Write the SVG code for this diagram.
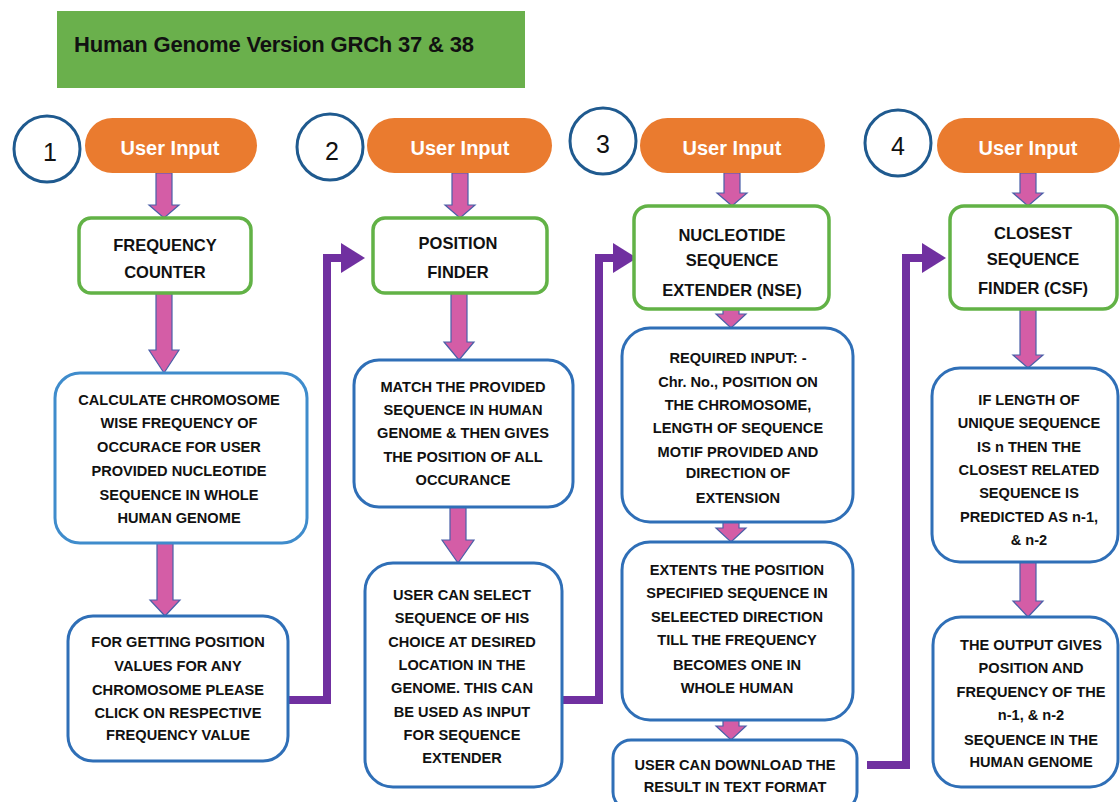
<svg xmlns="http://www.w3.org/2000/svg" width="1120" height="802" viewBox="0 0 1120 802">
<defs>
<marker id="ph" markerUnits="userSpaceOnUse" markerWidth="24" markerHeight="30" viewBox="0 0 24 30" refX="2" refY="15" orient="auto">
<path d="M0,0 L24,15 L0,30 z" fill="#7030a0"/>
</marker>
</defs>
<style>
text{font-family:"Liberation Sans",Arial,sans-serif;font-weight:bold;fill:#111;text-anchor:middle}
.title{font-size:22px;text-anchor:start}
.ui{font-size:20px;fill:#fff}
.num{font-size:25px;font-weight:normal}
.hd{font-size:16.5px}
.bt{font-size:14.6px}
.pill{fill:#ea7b2f}
.circ{fill:#fff;stroke:#1f5a8f;stroke-width:3}
.gbox{fill:#fff;stroke:#62b246;stroke-width:3.5}
.bbox{fill:#fff;stroke:#2f6fb7;stroke-width:3}
.pk{fill:#d45da6;stroke:#4a5fa8;stroke-width:1.2}
.pc{fill:none;stroke:#7030a0;stroke-width:8;marker-end:url(#ph)}
</style>
<rect width="1120" height="802" fill="#fff"/>

<g id="title">
<rect x="57" y="11" width="468" height="77" fill="#6ab04c"/>
<text class="title" x="74" y="52" textLength="400">Human Genome Version GRCh 37 &amp; 38</text>
</g>

<g id="connectors">
<polygon class="pk" points="156,173 172,173 172,205 179,205 164,218 149,205 156,205"/>
<polygon class="pk" points="452,173 468,173 468,205 475,205 460,218 445,205 452,205"/>
<polygon class="pk" points="724,173 740,173 740,193 747,193 732,206 717,193 724,193"/>
<polygon class="pk" points="1020,173 1036,173 1036,193 1043,193 1028,206 1013,193 1020,193"/>
<polygon class="pk" points="156,293 172,293 172,350 179,350 164,373 149,350 156,350"/>
<polygon class="pk" points="157,543 173,543 173,600 180,600 165,616 150,600 157,600"/>
<polygon class="pk" points="451,293 467,293 467,342 474,342 459,360 444,342 451,342"/>
<polygon class="pk" points="450,507 466,507 466,540 474,540 458,563 442,540 450,540"/>
<polygon class="pk" points="723,309 739,309 739,314 746,314 731,328 716,314 723,314"/>
<polygon class="pk" points="723,522 739,522 739,528 746,528 731,542 716,528 723,528"/>
<polygon class="pk" points="723,720 739,720 739,726 746,726 731,740 716,726 723,726"/>
<polygon class="pk" points="1020,309 1036,309 1036,355 1043,355 1028,368 1013,355 1020,355"/>
<polygon class="pk" points="1020,562 1036,562 1036,601 1043,601 1028,617 1013,601 1020,601"/>
<path class="pc" d="M288,700 H327 V258 H343"/>
<path class="pc" d="M562,700 H599 V258 H615"/>
<path class="pc" d="M867,765 H906 V258 H924"/>
</g>

<g id="step1">
<circle class="circ" cx="47" cy="149" r="33"/>
<text class="num" x="50" y="161">1</text>
</g>
<g id="step2">
<circle class="circ" cx="330" cy="147" r="33"/>
<text class="num" x="332" y="160">2</text>
</g>
<g id="step3">
<circle class="circ" cx="603" cy="141" r="33"/>
<text class="num" x="603" y="153">3</text>
</g>
<g id="step4">
<circle class="circ" cx="898" cy="143" r="33"/>
<text class="num" x="898" y="155">4</text>
</g>

<g id="input1"><rect class="pill" x="85" y="118" width="172" height="55" rx="27.5"/><text class="ui" x="170" y="155">User Input</text></g>
<g id="input2"><rect class="pill" x="367" y="118" width="185" height="55" rx="27.5"/><text class="ui" x="460" y="155">User Input</text></g>
<g id="input3"><rect class="pill" x="640" y="118" width="185" height="55" rx="27.5"/><text class="ui" x="732" y="155">User Input</text></g>
<g id="input4"><rect class="pill" x="937" y="118" width="183" height="55" rx="27.5"/><text class="ui" x="1028" y="155">User Input</text></g>

<g id="freq-counter">
<rect class="gbox" x="79" y="218" width="172" height="75" rx="12"/>
<text class="hd" x="165" y="251">FREQUENCY</text>
<text class="hd" x="165" y="278">COUNTER</text>
</g>
<g id="position-finder">
<rect class="gbox" x="373" y="218" width="174" height="75" rx="12"/>
<text class="hd" x="458" y="249">POSITION</text>
<text class="hd" x="458" y="278">FINDER</text>
</g>
<g id="nse">
<rect class="gbox" x="634" y="206" width="195" height="103" rx="14"/>
<text class="hd" x="732" y="241">NUCLEOTIDE</text>
<text class="hd" x="732" y="266">SEQUENCE</text>
<text class="hd" x="732" y="296">EXTENDER (NSE)</text>
</g>
<g id="csf">
<rect class="gbox" x="950" y="206" width="167" height="103" rx="14"/>
<text class="hd" x="1033" y="239">CLOSEST</text>
<text class="hd" x="1033" y="265">SEQUENCE</text>
<text class="hd" x="1033" y="294">FINDER (CSF)</text>
</g>

<g id="calc">
<rect class="bbox" x="55" y="373" width="252" height="170" rx="25" style="stroke:#3f8ccc"/>
<text class="bt" x="179" y="405">CALCULATE CHROMOSOME</text>
<text class="bt" x="179" y="428">WISE FREQUENCY OF</text>
<text class="bt" x="179" y="452">OCCURACE FOR USER</text>
<text class="bt" x="179" y="476">PROVIDED NUCLEOTIDE</text>
<text class="bt" x="179" y="500">SEQUENCE IN WHOLE</text>
<text class="bt" x="179" y="523">HUMAN GENOME</text>
</g>
<g id="for-getting">
<rect class="bbox" x="68" y="616" width="220" height="145" rx="25"/>
<text class="bt" x="178" y="647">FOR GETTING POSITION</text>
<text class="bt" x="178" y="671">VALUES FOR ANY</text>
<text class="bt" x="178" y="695">CHROMOSOME PLEASE</text>
<text class="bt" x="178" y="718">CLICK ON RESPECTIVE</text>
<text class="bt" x="178" y="740">FREQUENCY VALUE</text>
</g>
<g id="match">
<rect class="bbox" x="354" y="360" width="219" height="147" rx="25"/>
<text class="bt" x="463" y="392">MATCH THE PROVIDED</text>
<text class="bt" x="463" y="415">SEQUENCE IN HUMAN</text>
<text class="bt" x="463" y="438">GENOME &amp; THEN GIVES</text>
<text class="bt" x="463" y="462">THE POSITION OF ALL</text>
<text class="bt" x="463" y="485">OCCURANCE</text>
</g>
<g id="user-select">
<rect class="bbox" x="365" y="563" width="197" height="224" rx="28"/>
<text class="bt" x="462" y="600">USER CAN SELECT</text>
<text class="bt" x="462" y="623">SEQUENCE OF HIS</text>
<text class="bt" x="462" y="647">CHOICE AT DESIRED</text>
<text class="bt" x="462" y="670">LOCATION IN THE</text>
<text class="bt" x="462" y="693">GENOME. THIS CAN</text>
<text class="bt" x="462" y="717">BE USED AS INPUT</text>
<text class="bt" x="462" y="740">FOR SEQUENCE</text>
<text class="bt" x="462" y="763">EXTENDER</text>
</g>
<g id="required-input">
<rect class="bbox" x="622" y="328" width="231" height="194" rx="28"/>
<text class="bt" x="738" y="363">REQUIRED INPUT: -</text>
<text class="bt" x="738" y="387">Chr. No., POSITION ON</text>
<text class="bt" x="738" y="410">THE CHROMOSOME,</text>
<text class="bt" x="738" y="433">LENGTH OF SEQUENCE</text>
<text class="bt" x="738" y="457">MOTIF PROVIDED AND</text>
<text class="bt" x="738" y="478">DIRECTION OF</text>
<text class="bt" x="738" y="503">EXTENSION</text>
</g>
<g id="extends">
<rect class="bbox" x="622" y="542" width="231" height="178" rx="28"/>
<text class="bt" x="737" y="575">EXTENTS THE POSITION</text>
<text class="bt" x="737" y="598">SPECIFIED SEQUENCE IN</text>
<text class="bt" x="737" y="622">SELEECTED DIRECTION</text>
<text class="bt" x="737" y="645">TILL THE FREQUENCY</text>
<text class="bt" x="737" y="670">BECOMES ONE IN</text>
<text class="bt" x="737" y="693">WHOLE HUMAN</text>
</g>
<g id="download">
<rect class="bbox" x="613" y="740" width="244" height="70" rx="18"/>
<text class="bt" x="735" y="770">USER CAN DOWNLOAD THE</text>
<text class="bt" x="735" y="792">RESULT IN TEXT FORMAT</text>
</g>
<g id="if-length">
<rect class="bbox" x="932" y="368" width="186" height="194" rx="28"/>
<text class="bt" x="1029" y="405">IF LENGTH OF</text>
<text class="bt" x="1029" y="428">UNIQUE SEQUENCE</text>
<text class="bt" x="1029" y="452">IS n THEN THE</text>
<text class="bt" x="1029" y="475">CLOSEST RELATED</text>
<text class="bt" x="1029" y="498">SEQUENCE IS</text>
<text class="bt" x="1029" y="522">PREDICTED AS n-1,</text>
<text class="bt" x="1029" y="545">&amp; n-2</text>
</g>
<g id="output">
<rect class="bbox" x="933" y="617" width="185" height="170" rx="28"/>
<text class="bt" x="1031" y="650">THE OUTPUT GIVES</text>
<text class="bt" x="1031" y="673">POSITION AND</text>
<text class="bt" x="1031" y="697">FREQUENCY OF THE</text>
<text class="bt" x="1031" y="720">n-1, &amp; n-2</text>
<text class="bt" x="1031" y="745">SEQUENCE IN THE</text>
<text class="bt" x="1031" y="767">HUMAN GENOME</text>
</g>
</svg>
